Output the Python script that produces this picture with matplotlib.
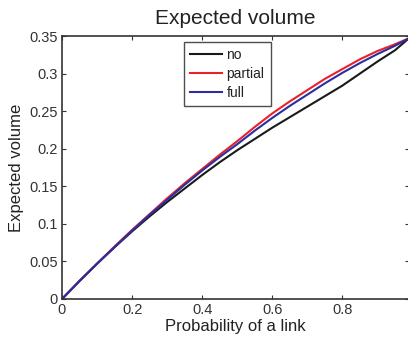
import numpy as np
import matplotlib
matplotlib.use("Agg")
import matplotlib.pyplot as plt

plt.rcParams['font.family'] = ['Liberation Sans', 'DejaVu Sans']

# probability of a link
p = [0.0, 0.05, 0.1, 0.15, 0.2, 0.25, 0.3, 0.35, 0.4, 0.45, 0.5,
     0.55, 0.6, 0.65, 0.7, 0.75, 0.8, 0.85, 0.9, 0.95, 0.99]
# expected volume for each case
vol_no = [0.0, 0.024, 0.047, 0.069, 0.090, 0.110, 0.129, 0.147, 0.165, 0.182, 0.198,
          0.213, 0.228, 0.242, 0.256, 0.270, 0.284, 0.300, 0.316, 0.331, 0.347]
vol_partial = [0.0, 0.024, 0.047, 0.070, 0.092, 0.113, 0.134, 0.154, 0.173, 0.192, 0.210,
               0.229, 0.247, 0.263, 0.278, 0.293, 0.306, 0.319, 0.330, 0.339, 0.347]
vol_full = [0.0, 0.024, 0.047, 0.069, 0.091, 0.112, 0.132, 0.152, 0.171, 0.189, 0.206,
            0.224, 0.241, 0.257, 0.272, 0.287, 0.301, 0.314, 0.326, 0.337, 0.347]

xticks = [0, 0.2, 0.4, 0.6, 0.8]
yticks = [0, 0.05, 0.1, 0.15, 0.2, 0.25, 0.3, 0.35]

fig = plt.figure(figsize=(4.08, 3.41), dpi=100)
ax = fig.add_axes([62/408, 42/341, 347/408, 263/341])

ax.plot(p, vol_no, color='#1a1a1a', lw=1.5, label='no')
ax.plot(p, vol_partial, color='#e8202a', lw=1.5, label='partial')
ax.plot(p, vol_full, color='#2a2ea0', lw=1.5, label='full')

ax.set_xlim(0, 0.99)
ax.set_ylim(0, 0.35)
ax.set_xticks(xticks)
ax.set_xticklabels(['0', '0.2', '0.4', '0.6', '0.8'])
ax.set_yticks(yticks)
ax.set_yticklabels(['0', '0.05', '0.1', '0.15', '0.2', '0.25', '0.3', '0.35'])
ax.tick_params(direction='in', length=3, width=0.8, top=True, right=True,
               labelsize=10.5, colors='#333333', pad=3)
for s in ax.spines.values():
    s.set_linewidth(1.2)
    s.set_color('#333333')

ax.set_title('Expected volume', fontsize=15, color='#222222', pad=9)
ax.set_xlabel('Probability of a link', fontsize=12, color='#222222', labelpad=1)
ax.set_ylabel('Expected volume', fontsize=12, color='#222222', labelpad=4)

leg = ax.legend(loc='upper left', bbox_to_anchor=(0.352, 0.978), fontsize=10,
                frameon=True, fancybox=False, edgecolor='#222222',
                handlelength=2.3, handletextpad=0.3, borderpad=0.45,
                labelspacing=0.35, borderaxespad=0)
leg.get_frame().set_linewidth(1.0)
for t in leg.get_texts():
    t.set_color('#222222')

fig.savefig('out.png', dpi=100)
